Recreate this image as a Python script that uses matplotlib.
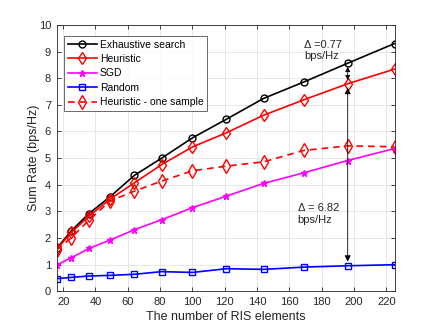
import matplotlib
matplotlib.use("Agg")
import matplotlib.pyplot as plt

plt.rcParams['font.family'] = ['Liberation Sans', 'DejaVu Sans']

x = [16, 25, 36, 49, 64, 81, 100, 121, 144, 169, 196, 225]
exhaustive = [1.61, 2.27, 2.92, 3.55, 4.35, 5.0, 5.76, 6.46, 7.24, 7.86, 8.56, 9.3]
heuristic = [1.575, 2.21, 2.82, 3.46, 4.07, 4.76, 5.42, 5.95, 6.61, 7.19, 7.79, 8.34]
sgd = [0.99, 1.26, 1.61, 1.925, 2.31, 2.69, 3.14, 3.575, 4.05, 4.45, 4.91, 5.36]
random_ = [0.475, 0.525, 0.575, 0.6, 0.64, 0.74, 0.71, 0.85, 0.825, 0.91, 0.96, 1.0]
one_sample = [1.55, 2.01, 2.675, 3.39, 3.76, 4.14, 4.525, 4.7, 4.86, 5.29, 5.46, 5.425]

xticks = [20, 40, 60, 80, 100, 120, 140, 160, 180, 200, 220]
yticks = list(range(0, 11))

fig = plt.figure(figsize=(4.36, 3.27), dpi=100)
ax = fig.add_axes([0.130, 0.109, 0.775, 0.815])

lw = 1.2
ms = 5
ax.plot(x, exhaustive, '-o', color='black', lw=lw, ms=ms, mfc='none', mew=1.0, label='Exhaustive search')
ax.plot(x, heuristic, '-d', color='red', lw=lw, ms=ms + 1, mfc='none', mew=1.0, label='Heuristic')
ax.plot(x, sgd, '-*', color='magenta', lw=lw, ms=ms, mfc='magenta', mew=1.0, label='SGD')
ax.plot(x, random_, '-s', color='blue', lw=lw, ms=ms - 0.5, mfc='none', mew=1.0, label='Random')
ax.plot(x, one_sample, '--d', color='red', lw=lw, ms=ms + 2, mfc='none', mew=1.0,
        dashes=(4, 3), label='Heuristic - one sample')

ax.set_xlim(16, 225)
ax.set_ylim(0, 10)
ax.set_xticks(xticks)
ax.set_yticks(yticks)
ax.tick_params(direction='in', length=3, labelsize=8, colors='#262626', top=True, right=True,
               labeltop=False, labelright=False, width=0.6, pad=4)
ax.grid(True, color='#e3e3e3', lw=0.6)
ax.set_axisbelow(True)
for s in ax.spines.values():
    s.set_color('#262626')
    s.set_linewidth(0.6)

ax.set_xlabel('The number of RIS elements', fontsize=9, color='#262626', labelpad=3)
ax.set_ylabel('Sum Rate (bps/Hz)', fontsize=9, color='#262626', labelpad=-1)

# Annotations
ax.annotate('', xy=(196, random_[10] + 0.05), xytext=(196, heuristic[10] - 0.05),
            arrowprops=dict(arrowstyle='<|-|>', color='black', lw=0.6, mutation_scale=9))
ax.annotate('', xy=(196, exhaustive[10] - 0.03), xytext=(196, heuristic[10] + 0.03),
            arrowprops=dict(arrowstyle='<|-|>', color='black', lw=0.6, mutation_scale=7))
ax.text(169, 9.45, '\u0394 =0.77\nbps/Hz', fontsize=8, color='#262626', va='top', ha='left',
        linespacing=1.2)
ax.text(165, 3.3, '\u0394 = 6.82\nbps/Hz', fontsize=8, color='#262626', va='top', ha='left',
        linespacing=1.2)

leg = ax.legend(loc='upper left', bbox_to_anchor=(0.0216, 0.958), fontsize=7.5, frameon=True,
                fancybox=False, edgecolor='#262626', handlelength=2.8, handletextpad=0.3,
                borderpad=0.35, labelspacing=0.42, borderaxespad=0)
leg.get_frame().set_linewidth(0.6)

fig.savefig('out.png', dpi=100)
